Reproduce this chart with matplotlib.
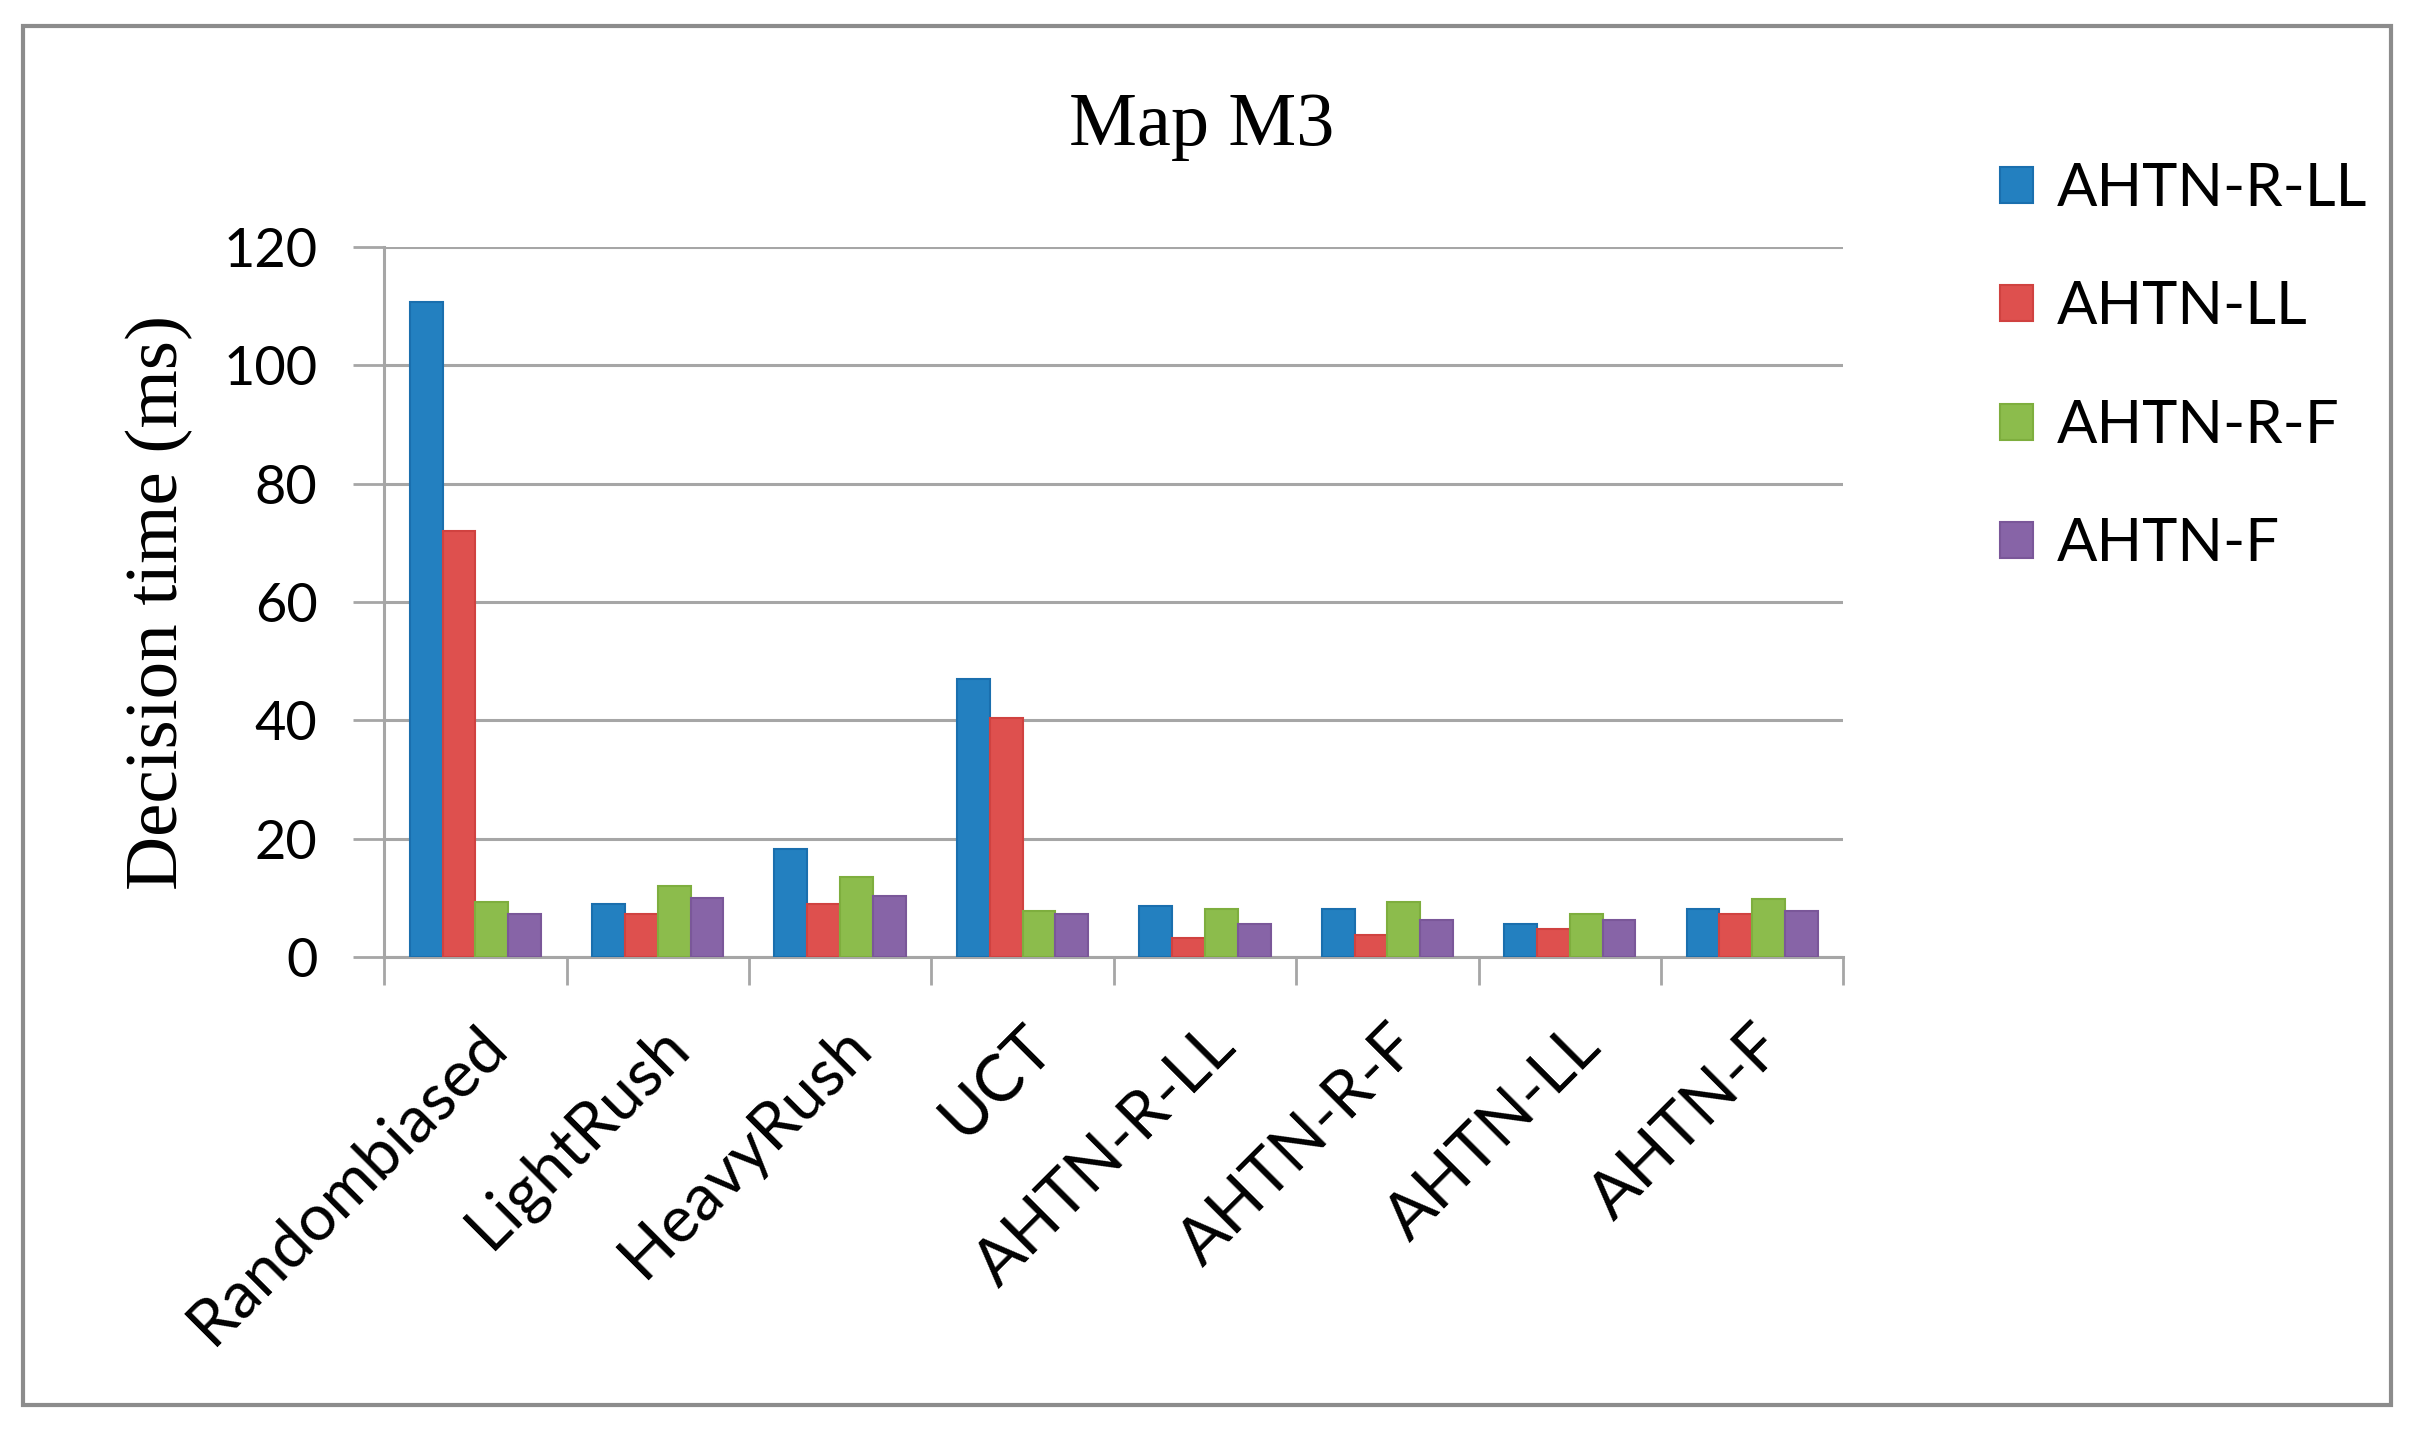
import numpy as np
import matplotlib.pyplot as plt
from matplotlib.patches import Patch, Rectangle

# ----------------------------
# Data
# ----------------------------
categories = ["Randombiased", "LightRush", "HeavyRush", "UCT",
              "AHTN-R-LL", "AHTN-R-F", "AHTN-LL", "AHTN-F"]
series_names = ["AHTN-R-LL", "AHTN-LL", "AHTN-R-F", "AHTN-F"]

ahtn_r_ll = [110.8, 8.9, 18.2, 47.0, 8.7, 8.2, 5.6, 8.2]
ahtn_ll   = [72.0, 7.3, 8.9, 40.4, 3.2, 3.7, 4.7, 7.3]
ahtn_r_f  = [9.3, 12.0, 13.5, 7.8, 8.2, 9.3, 7.2, 9.8]
ahtn_f    = [7.3, 9.9, 10.4, 7.3, 5.6, 6.2, 6.2, 7.7]

y_ticks = [0, 20, 40, 60, 80, 100, 120]

colors = ["#2380C0", "#DE504E", "#8CBC4C", "#8764A7"]
edges = ["#1A6FAE", "#D04240", "#7EAE3E", "#7A5799"]

SANS = ["Lato", "DejaVu Sans"]
SERIF = ["Liberation Serif", "DejaVu Serif"]
GRID = "#A6A6A6"

# ----------------------------
# Plot
# ----------------------------
fig = plt.figure(figsize=(24.16, 14.37), dpi=100)
ax = fig.add_axes([0.159, 0.334, 0.604, 0.494])

x = np.arange(len(categories))
width = 0.18
all_series = [ahtn_r_ll, ahtn_ll, ahtn_r_f, ahtn_f]
for i, vals in enumerate(all_series):
    ax.bar(x + (i - 1.5) * width, vals, width, color=colors[i],
           edgecolor=edges[i], linewidth=1.5, zorder=3)

ax.set_xlim(-0.5, len(categories) - 0.5)
ax.set_ylim(0, 120)
ax.set_yticks(y_ticks)
ax.set_yticklabels([str(v) for v in y_ticks], fontsize=39, family=SANS)
ax.yaxis.grid(True, color=GRID, linewidth=2.2, zorder=0)
ax.set_axisbelow(True)

# category labels, rotated; tick marks sit between groups
ax.set_xticks(x)
ax.set_xticklabels(categories, rotation=45, ha="right",
                   rotation_mode="anchor", fontsize=47, family=SANS)
ax.tick_params(axis="x", which="major", length=0, pad=42)
ax.set_xticks(np.arange(-0.5, len(categories)), minor=True)
ax.tick_params(axis="x", which="minor", length=20, width=2, color=GRID)
ax.tick_params(axis="y", length=22, width=2, color=GRID, pad=26)

for side in ["top", "right"]:
    ax.spines[side].set_visible(False)
for side in ["left", "bottom"]:
    ax.spines[side].set_color(GRID)
    ax.spines[side].set_linewidth(2.2)

ax.set_ylabel("Decision time (ms)", fontsize=54, family=SERIF)
ax.yaxis.set_label_coords(-0.131, 0.5)

fig.text(0.4975, 0.912, "Map M3", fontsize=55, family=SERIF,
         ha="center", va="center")

handles = [Patch(facecolor=c, edgecolor=e, linewidth=1.5)
           for c, e in zip(colors, edges)]
fig.legend(handles, series_names, loc="upper left",
           bbox_to_anchor=(0.818, 0.904), frameon=False,
           prop={"family": SANS, "size": 43},
           handlelength=0.55, handleheight=0.55, handletextpad=0.4,
           labelspacing=1.08, borderaxespad=0)

# outer frame
fig.patches.append(Rectangle((0.0095, 0.022), 0.980, 0.960,
                             transform=fig.transFigure, fill=False,
                             edgecolor="#8C8C8C", linewidth=3))

fig.savefig("out.png", dpi=100, facecolor="white")
